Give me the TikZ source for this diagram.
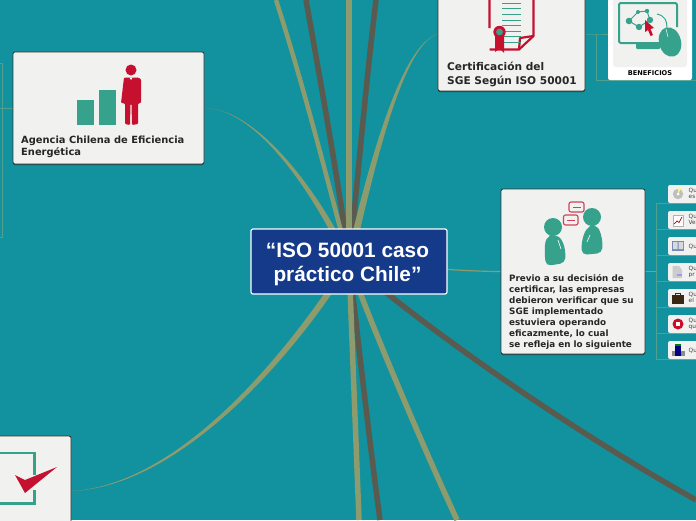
\documentclass[tikz,border=0pt]{standalone}
\usepackage{fontspec}
\setmainfont{DejaVu Sans}
\newfontfamily\hubfont{Liberation Sans}
\usetikzlibrary{backgrounds,shadows}
\definecolor{seaback}{HTML}{12919F}
\definecolor{olivebranch}{HTML}{8E9B6C}
\definecolor{darkbranch}{HTML}{5A5A4E}
\definecolor{twigline}{HTML}{4FA08F}
\definecolor{hubblue}{HTML}{153A8A}
\definecolor{cardgrey}{HTML}{F1F1EF}
\definecolor{icongreen}{HTML}{36A28C}
\definecolor{iconred}{HTML}{C5112F}
\tikzset{
  card/.style={draw=black!80, line width=0.8pt, fill=cardgrey, rounded corners=2pt, inner sep=0pt,
    drop shadow={shadow xshift=0pt, shadow yshift=-1pt, opacity=0.5, fill=black}},
  subcard/.style={fill=cardgrey, rounded corners=2pt, inner sep=0pt, minimum width=62pt, minimum height=18pt},
  cardtext/.style={anchor=north west, align=left, inner sep=0pt, text=black!85},
  subtext/.style={anchor=north west, align=left, inner sep=0pt, text=black!75, font=\fontsize{5.8}{6.3}\selectfont},
  thickolive/.style={draw=olivebranch, line width=5.5pt},
  thickdark/.style={draw=darkbranch, line width=5.5pt},
  twig/.style={draw=twigline, line width=0.8pt},
}
\begin{document}
\begin{tikzpicture}[x=1pt,y=-1pt]
  \useasboundingbox (0,0) rectangle (696,520);
  \clip (0,0) rectangle (696,520);

  % Central topic
  \node[fill=hubblue, draw=white, line width=1.2pt, rounded corners=2pt, minimum width=196pt, minimum height=65pt,
    inner sep=0pt] (hub) at (349,261.5) {};
  \node[text=white, align=center, inner sep=0pt, font=\fontsize{20.8}{24}\selectfont\hubfont\bfseries] (hubtext) at (347.5,264.5)
    {“ISO 50001 caso\\ práctico Chile”};
  \coordinate (hubc) at (349,262);

  % Main cards
  \node[card, minimum width=191pt, minimum height=112pt] (agency) at (108.5,108) {};
  \node[card, minimum width=147pt, minimum height=114pt] (cert) at (511.5,34) {};
  \node[card, minimum width=144pt, minimum height=165pt] (previo) at (573,271.5) {};
  \node[card, minimum width=131pt, minimum height=110pt] (check) at (5.5,491) {};
  \node[fill=white, rounded corners=2pt, inner sep=0pt, minimum width=84pt, minimum height=120pt] (benef) at (650,20) {};
  \fill[cardgrey, rounded corners=3pt] (613,-10) rectangle (687,67);

  % Card titles
  \node[cardtext, font=\fontsize{9.9}{12}\selectfont\bfseries] (agencytitle) at (21,136) {Agencia Chilena de Eficiencia\\Energética};
  \node[cardtext, font=\fontsize{10.6}{13.5}\selectfont\bfseries] (certtitle) at (447,62) {Certificación del\\SGE Según ISO 50001};
  \node[cardtext, font=\fontsize{8.8}{11}\selectfont\bfseries] (previotitle) at (509,274.5) {Previo a su decisión de\\certificar, las empresas\\debieron verificar que su\\SGE implementado\\estuviera operando\\eficazmente, lo cual\\se refleja en lo siguiente};
  \node[anchor=center, inner sep=0pt, text=black, font=\fontsize{6.6}{8}\selectfont\bfseries] (beneftitle) at (650,73.5) {BENEFICIOS};

  % Small cards on the right
  \foreach \i/\y in {1/194,2/220,3/246,4/272,5/298,6/324,7/350} {
    \node[subcard] (sub\i) at (699,\y) {};
  }
  \node[subtext] (subtext1) at (688.5,188) {Qu\\es};
  \node[subtext] (subtext2) at (688.5,214) {Qu\\Ve};
  \node[subtext] (subtext3) at (688.5,243.5) {Qu};
  \node[subtext] (subtext4) at (688.5,266) {Qu\\pr};
  \node[subtext] (subtext5) at (688.5,292) {Qu\\el};
  \node[subtext] (subtext6) at (688.5,318) {Qu\\qu};
  \node[subtext] (subtext7) at (688.5,347.5) {Qu};

  % Small icons
  \fill[black!25] (678,194) circle (5.2);
  \fill[yellow!50!white] (678,194) -- (678,189) arc (90:10:5) -- cycle;
  \fill[white] (678,194) circle (1.5);
  \fill[white] (673,215) rectangle (683,226);
  \draw[black!30, line width=0.4pt] (673,215) rectangle (683,226);
  \draw[red!70!black, line width=0.7pt] (674,224) -- (677,221) -- (679,222.5) -- (682,217);
  \fill[hubblue!60] (672,241) rectangle (684,251);
  \fill[white!85!black] (673,242) rectangle (677.5,249) (678.5,242) rectangle (683,249);
  \fill[black!20] (672.5,266) -- (679,266) -- (682,270) -- (682,278) -- (672.5,278) -- cycle;
  \fill[blue!40] (677,274) rectangle (682,276);
  \fill[black!70!brown] (672,295) rectangle (684,304);
  \draw[black!70!brown, line width=0.7pt] (675.5,295) -- (675.5,293) -- (680.5,293) -- (680.5,295);
  \fill[iconred!90!red] (678,324) circle (5.5);
  \fill[white] (676,322) rectangle (680,326);
  \fill[black!45] (671.5,351) rectangle (676,356);
  \fill[blue!50!black] (675,344) rectangle (681,356);
  \fill[green!50!black] (675,344) rectangle (681,345.5);
  \fill[black!45] (681,351) rectangle (685,356);

  % People and bars
  \fill[icongreen] (77,100) rectangle (93.5,125);
  \fill[icongreen] (99,90) rectangle (115.5,125);
  \fill[iconred] (131,70) circle (5.5);
  \fill[iconred, rounded corners=1pt] (124,77.5) -- (138,77.5) -- (141,79) -- (141,103) -- (138,103.5) -- (138,124) -- (132,125) -- (131.5,104)
    -- (130.5,104) -- (130,125) -- (125,124) -- (125,103.5) -- (121,103) -- cycle;
  \fill[white] (129.5,77.5) -- (132.5,77.5) -- (131,80) -- cycle;

  % Certificate
  \draw[iconred, line width=2.2pt, line join=round] (489.5,-5) -- (489.5,28) (489.5,49.5) -- (519,49.5) -- (533.5,36) -- (533.5,-5);
  \draw[iconred, line width=2.2pt, line join=round] (519,49.5) -- (520,38) -- (533.5,36);
  \foreach \y in {3,8,14,20,25,31,36,42} {
    \draw[icongreen, line width=1pt] (502,\y) -- (521,\y);
  }
  \fill[iconred] (495,36) -- (495,52) -- (499.5,48.5) -- (504,53) -- (504,36) -- cycle;
  \fill[iconred] (499.5,32) circle (6.2);
  \fill[icongreen] (499.5,32) circle (3.4);

  % Monitor and mouse
  \draw[icongreen, line width=2pt, rounded corners=2pt] (668,43) -- (619,43) -- (619,3) -- (677,3) -- (677,27);
  \fill[icongreen, rounded corners=1pt] (636,43) rectangle (660,49);
  \foreach \x/\y/\r in {629/21/3.3,639/27/3.2,650/20/3.2,647/11/2.2,638/12/2} {
    \fill[icongreen] (\x,\y) circle (\r);
  }
  \draw[icongreen, line width=1pt] (629,21) -- (638,12) -- (647,11) -- (650,20) -- (639,27) -- cycle;
  \fill[iconred] (645,20) -- (654,28) -- (650.5,29) -- (653,35) -- (650.5,36) -- (648,30) -- (645,32) -- cycle;
  \draw[icongreen, line width=1pt] (657,14) .. controls (665,16) and (667,20) .. (667,30);
  \fill[icongreen, rotate around={15:(670,42)}] (670,42) ellipse (11 and 15);
  \draw[cardgrey, line width=0.5pt] (666,29) -- (668,37);

  % Two people talking
  \fill[icongreen] (553,227) circle (9);
  \fill[icongreen, rounded corners=5pt] (551,236) .. controls (562,236) and (566,248) .. (565,263)
    -- (546,266) .. controls (544,250) and (545,240) .. (551,236) -- cycle;
  \fill[icongreen] (592,217) circle (9);
  \fill[icongreen, rounded corners=5pt] (592,226) .. controls (600,228) and (603,240) .. (602,253)
    -- (582,255) .. controls (581,240) and (585,230) .. (592,226) -- cycle;
  \draw[cardgrey, line width=0.7pt] (558,240) -- (561,249);
  \draw[cardgrey, line width=0.7pt] (590,235) -- (587,242);
  \draw[iconred!80!white, line width=1.1pt, rounded corners=2pt] (569,202) rectangle (584,212);
  \draw[iconred!80!white, line width=1.1pt, rounded corners=2pt] (563.5,215) rectangle (578,225);
  \draw[iconred!80!white, line width=0.9pt] (572.5,207) -- (581,207) (567,220) -- (575,220);

  % Check mark
  \draw[icongreen, line width=2.2pt] (-5,453) -- (34.5,453) -- (34.5,475) (34.5,490) -- (34.5,503.5) -- (-5,503.5);
  \fill[iconred] (15,475) -- (25,480) -- (57,467) -- (25,493) -- cycle;

  \begin{scope}[on background layer]
    \fill[seaback] (0,0) rectangle (696,520);

    % Thin lines between cards
    \coordinate (certfork) at (596,34);
    \coordinate (benefend) at (696,80);
    \draw[twig] (cert.east) -- (certfork) -- (benef.west |- certfork);
    \draw[twig] (certfork) |- (benefend);
    \coordinate (leftfork) at (2.5,108);
    \coordinate (leftup) at (0,63);
    \coordinate (leftdown) at (0,237);
    \draw[twig] (leftup) -| (leftfork) |- (leftdown);
    \draw[twig] (agency.west) -- (0,108);
    \coordinate (trunk) at (656,271.5);
    \draw[olivebranch, line width=1pt] (previo.east) -- (trunk);
    \foreach \i in {1,...,7} {
      \draw[twig] (trunk) |- (sub\i.south east);
    }

    % Main branches
    \coordinate (topa) at (276,0);
    \coordinate (topb) at (306,0);
    \coordinate (topc) at (349,0);
    \coordinate (topd) at (376,0);
    \coordinate (bota) at (359,520);
    \coordinate (botb) at (380,520);
    \coordinate (botc) at (457,520);
    \coordinate (rightend) at (696,500);
    \draw[thickdark] (hubc) .. controls (340,190) and (322,90) .. (topb);
    \draw[thickdark] (hubc) .. controls (357,190) and (365,90) .. (topd);
    \draw[thickdark] (hubc) .. controls (357,330) and (368,430) .. (botb);
    \draw[thickdark] (hubc) .. controls (440,340) and (580,435) .. (rightend);
    \draw[thickolive, line width=4.5pt] (hubc) .. controls (330,190) and (305,90) .. (topa);
    \draw[thickolive] (hubc) -- (topc);
    \draw[thickolive] (hubc) -- (bota);
    \draw[thickolive] (hubc) .. controls (365,310) and (420,440) .. (botc);

    % Tapered branches
    \fill[olivebranch] ([xshift=-3.5pt]hubc) .. controls (367,170) and (400,45) .. (cert.west)
      .. controls (402,45) and (374,170) .. ([xshift=3.5pt]hubc) -- cycle;
    \fill[olivebranch] ([xshift=-3.5pt]hubc) .. controls (312,190) and (255,108) .. (agency.east)
      .. controls (256,108) and (319,190) .. ([xshift=3.5pt]hubc) -- cycle;
    \fill[olivebranch] ([xshift=-3.5pt]hubc) .. controls (287,353) and (180,485) .. (check.east)
      .. controls (180,487) and (294,357) .. ([xshift=3.5pt]hubc) -- cycle;
    \draw[olivebranch, line width=1.2pt] (hubc) .. controls (420,268) and (470,271.5) .. (previo.west);
  \end{scope}
\end{tikzpicture}
\end{document}
